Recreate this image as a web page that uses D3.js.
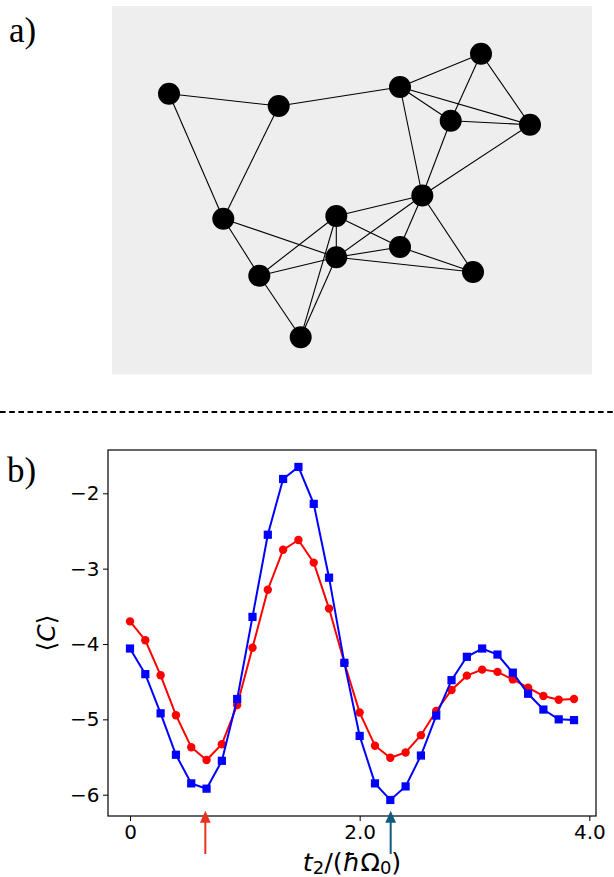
<!DOCTYPE html>
<html><head><meta charset="utf-8">
<script src="https://cdn.jsdelivr.net/npm/d3@7/dist/d3.min.js"></script>
<style>html,body{margin:0;padding:0;background:#fff;}</style>
</head><body>
<svg id="c" width="614" height="877"></svg>
<script>
// ---------- data ----------
const nodeNames = ["A","B","C","D","E","F","G","H","I","J","K","L","M","N"];
const nodeX = [57, 166.7, 369, 288, 338.7, 418, 310.3, 111.3, 224.3, 224.3, 147.3, 188.7, 288, 361];
const nodeY = [87.7, 100, 47.7, 81, 114.7, 118.7, 189.5, 212.7, 210, 251.3, 269.7, 331.3, 241, 266];
const edges = [["A","B"],["A","H"],["B","D"],["B","H"],["D","C"],["D","E"],["D","F"],["D","G"],
  ["C","E"],["C","F"],["E","F"],["E","G"],["F","G"],["G","I"],["G","J"],["G","M"],["G","N"],
  ["H","J"],["H","K"],["I","K"],["I","J"],["I","M"],["I","L"],["J","K"],["J","M"],["J","N"],
  ["J","L"],["M","N"],["K","L"]];

const tValues = d3.range(30).map(i => i * 2 / 15);
const blueValues = [-4.06,-4.40,-4.92,-5.47,-5.85,-5.92,-5.55,-4.73,-3.64,-2.55,-1.81,-1.65,-2.14,-3.12,-4.25,
  -5.22,-5.85,-6.07,-5.89,-5.48,-4.95,-4.48,-4.17,-4.06,-4.14,-4.38,-4.66,-4.87,-5.00,-5.01];
const redValues = [-3.70,-3.95,-4.415,-4.945,-5.37,-5.54,-5.33,-4.81,-4.05,-3.28,-2.75,-2.62,-2.92,-3.53,-4.25,
  -4.91,-5.35,-5.51,-5.44,-5.21,-4.89,-4.61,-4.42,-4.34,-4.37,-4.47,-4.58,-4.69,-4.74,-4.73];
const xTicks = [0, 2, 4];
const xTickLabels = ["0", "2.0", "4.0"];
const yTicks = [-2, -3, -4, -5, -6];
const arrowX = [0.656, 2.27];
const arrowColors = ["#e8321e", "#0f5a7d"];

const svg = d3.select("#c");

// ---------- panel a ----------
const rectL = 112, rectT = 6, rectW = 480, rectH = 368.3;
svg.append("rect").attr("x", rectL).attr("y", rectT).attr("width", rectW).attr("height", rectH).attr("fill", "#eeeeee");
const gx = d3.scaleLinear().domain([0, rectW]).range([rectL, rectL + rectW]);
const gy = d3.scaleLinear().domain([0, rectH]).range([rectT, rectT + rectH]);
const idx = {}; nodeNames.forEach((n, i) => idx[n] = i);
svg.append("g").selectAll("line").data(edges).join("line")
  .attr("x1", d => gx(nodeX[idx[d[0]]])).attr("y1", d => gy(nodeY[idx[d[0]]]))
  .attr("x2", d => gx(nodeX[idx[d[1]]])).attr("y2", d => gy(nodeY[idx[d[1]]]))
  .attr("stroke", "#000").attr("stroke-width", 1.1);
svg.append("g").selectAll("circle").data(nodeNames).join("circle")
  .attr("cx", (d, i) => gx(nodeX[i])).attr("cy", (d, i) => gy(nodeY[i])).attr("r", 11).attr("fill", "#000");

svg.append("text").attr("x", 9).attr("y", 42).attr("font-family", "Liberation Serif").attr("font-size", 35).text("a)");

// dashed separator
svg.append("line").attr("x1", 0).attr("x2", 614).attr("y1", 412).attr("y2", 412)
  .attr("stroke", "#000").attr("stroke-width", 2).attr("stroke-dasharray", "5.6,3.6");

svg.append("text").attr("x", 7).attr("y", 482).attr("font-family", "Liberation Serif").attr("font-size", 35).text("b)");

// ---------- panel b ----------
const L = 108, R = 596, T = 450, B = 816;
const x = d3.scaleLinear().domain([-0.1916, 4.058]).range([L, R]);
const y = d3.scaleLinear().domain([-6.2827, -1.4253]).range([B, T]);

const line = d3.line().x((d, i) => x(tValues[i])).y(d => y(d));
const plot = svg.append("g");
plot.append("path").datum(redValues).attr("d", line).attr("fill", "none").attr("stroke", "#ff0000").attr("stroke-width", 2);
plot.append("g").selectAll("circle").data(redValues).join("circle")
  .attr("cx", (d, i) => x(tValues[i])).attr("cy", d => y(d)).attr("r", 4.2).attr("fill", "#ff0000");
plot.append("path").datum(blueValues).attr("d", line).attr("fill", "none").attr("stroke", "#0000ff").attr("stroke-width", 2);
const sq = 8.2;
plot.append("g").selectAll("rect").data(blueValues).join("rect")
  .attr("x", (d, i) => x(tValues[i]) - sq / 2).attr("y", d => y(d) - sq / 2)
  .attr("width", sq).attr("height", sq).attr("fill", "#0000ff");

// axes
const xAxis = d3.axisBottom(x).tickValues(xTicks).tickFormat((d, i) => xTickLabels[i]).tickSize(5).tickPadding(4);
const yAxis = d3.axisLeft(y).tickValues(yTicks).tickFormat(d => "\u2212" + Math.abs(d)).tickSize(5).tickPadding(3.5);
const gxa = svg.append("g").attr("transform", `translate(0,${B})`).call(xAxis);
const gya = svg.append("g").attr("transform", `translate(${L},0)`).call(yAxis);
[gxa, gya].forEach(g => {
  g.select(".domain").remove();
  g.selectAll("text").attr("font-family", "DejaVu Sans").attr("font-size", 20).attr("fill", "#000");
  g.selectAll("line").attr("stroke", "#000").attr("stroke-width", 1);
});
svg.append("rect").attr("x", L).attr("y", T).attr("width", R - L).attr("height", B - T)
  .attr("fill", "none").attr("stroke", "#000").attr("stroke-width", 1.2);

// arrows
arrowX.forEach((v, i) => {
  const ax = x(v), c = arrowColors[i];
  svg.append("line").attr("x1", ax).attr("x2", ax).attr("y1", 820).attr("y2", 854).attr("stroke", c).attr("stroke-width", 2);
  svg.append("path").attr("d", `M${ax},810.7 L${ax - 5.4},822.7 L${ax + 5.4},822.7 Z`).attr("fill", c);
});

// labels
const xl = svg.append("text").attr("x", (L + R) / 2).attr("y", 871).attr("text-anchor", "middle")
  .attr("font-family", "DejaVu Sans").attr("font-size", 25.5);
xl.append("tspan").attr("font-style", "italic").text("t");
xl.append("tspan").attr("font-size", 18).attr("dy", 3).text("2");
xl.append("tspan").attr("dy", -3).text("/(");
xl.append("tspan").attr("font-style", "italic").text("\u0127");
xl.append("tspan").text("\u03A9");
xl.append("tspan").attr("font-size", 18).attr("dy", 3).text("0");
xl.append("tspan").attr("dy", -3).text(")");

const yl = svg.append("text").attr("transform", `translate(55,${(T + B) / 2}) rotate(-90)`).attr("text-anchor", "middle")
  .attr("font-family", "DejaVu Sans").attr("font-size", 25);
yl.append("tspan").text("\u27E8");
yl.append("tspan").attr("font-style", "italic").text("C");
yl.append("tspan").text("\u27E9");
</script>
</body></html>
